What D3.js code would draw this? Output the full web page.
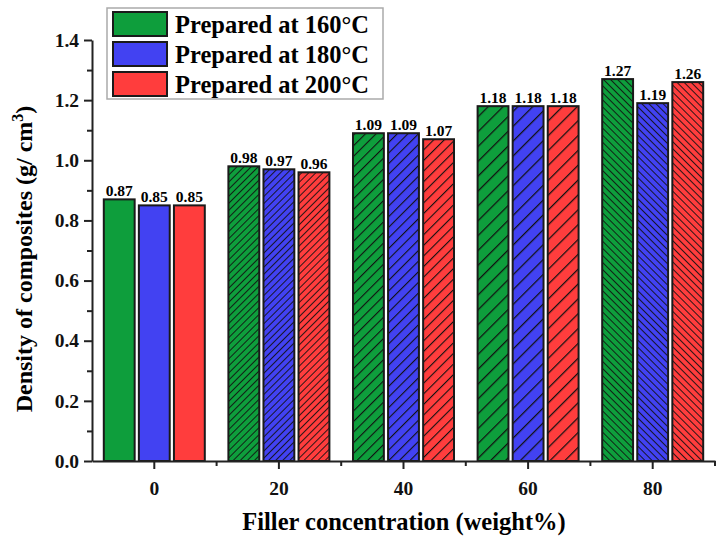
<!DOCTYPE html>
<html><head><meta charset="utf-8">
<script src="https://cdn.jsdelivr.net/npm/d3@7"></script>
<style>body{margin:0;background:#fff}svg{display:block}</style>
</head><body><div id="chart"></div>
<script>
const categories = ["0", "20", "40", "60", "80"];
const seriesNames = ["Prepared at 160°C", "Prepared at 180°C", "Prepared at 200°C"];
const values160 = [0.87, 0.98, 1.09, 1.18, 1.27];
const values180 = [0.85, 0.97, 1.09, 1.18, 1.19];
const values200 = [0.85, 0.96, 1.07, 1.18, 1.26];
const yTicks = [0.0, 0.2, 0.4, 0.6, 0.8, 1.0, 1.2, 1.4];
const colors = ["#0e9e3c", "#4242f2", "#ff3d3d"];
const hatch = [null, {ang: 45, sp: 5, w: 1.8}, {ang: 45, sp: 7.5, w: 2.2}, {ang: 45, sp: 10.5, w: 2.5}, {ang: -45, sp: 5, w: 1.8}];

const W = 725, H = 538;
const svg = d3.select("#chart").append("svg").attr("width", W).attr("height", H);
const font = "'Liberation Serif','Times New Roman',serif";

const x = d3.scaleBand().domain(categories).range([92, 715]).padding(0);
const y = d3.scaleLinear().domain([0, 1.4]).range([461, 40]);
const sub = d3.scaleBand().domain([0,1,2]).range([0, 101]).paddingInner(0.12);
const series = [values160, values180, values200];

// patterns
const defs = svg.append("defs");
categories.forEach((c, ci) => {
  if (!hatch[ci]) return;
  colors.forEach((col, si) => {
    const h = hatch[ci];
    const p = defs.append("pattern").attr("id", `h${ci}_${si}`)
      .attr("patternUnits", "userSpaceOnUse").attr("width", h.sp).attr("height", h.sp)
      .attr("patternTransform", `rotate(${h.ang})`);
    p.append("rect").attr("width", h.sp).attr("height", h.sp).attr("fill", col);
    p.append("line").attr("x1", 0).attr("y1", 0).attr("x2", 0).attr("y2", h.sp)
      .attr("stroke", "#111").attr("stroke-width", h.w);
  });
});

// bars
const barData = [];
categories.forEach((c, ci) => series.forEach((s, si) => barData.push({c, ci, si, v: s[ci]})));
const gOff = (x.bandwidth() - 101) / 2;
svg.append("g").selectAll("rect").data(barData).join("rect")
  .attr("x", d => x(d.c) + gOff + sub(d.si))
  .attr("y", d => y(d.v))
  .attr("width", sub.bandwidth())
  .attr("height", d => y(0) - y(d.v))
  .attr("fill", d => hatch[d.ci] ? `url(#h${d.ci}_${d.si})` : colors[d.si])
  .attr("stroke", "#1a1a1a").attr("stroke-width", 2);

svg.append("g").selectAll("text").data(barData).join("text")
  .attr("x", d => x(d.c) + gOff + sub(d.si) + sub.bandwidth() / 2)
  .attr("y", d => y(d.v) - 3)
  .attr("text-anchor", "middle")
  .attr("font-family", font).attr("font-weight", "bold").attr("font-size", 15.5)
  .text(d => d.v.toFixed(2));

// y axis
const yAxis = svg.append("g").attr("transform", "translate(92,0)")
  .call(d3.axisLeft(y).tickValues(yTicks).tickFormat(d3.format(".1f")).tickSize(8).tickSizeOuter(0).tickPadding(5));
const yMinor = svg.append("g").attr("transform", "translate(92,0)")
  .call(d3.axisLeft(y).tickValues(d3.range(0.1, 1.4, 0.2)).tickFormat("").tickSize(5).tickSizeOuter(0));
yMinor.select(".domain").remove();

// x axis
const xAxis = svg.append("g").attr("transform", "translate(0,461)")
  .call(d3.axisBottom(x).tickSize(8).tickSizeOuter(0).tickPadding(12));
const bounds = categories.map((c) => x(c) + x.bandwidth());
svg.append("g").selectAll("line").data(bounds).join("line")
  .attr("x1", d => d).attr("x2", d => d).attr("y1", 461).attr("y2", 466)
  .attr("stroke", "#222").attr("stroke-width", 2);

[yAxis, yMinor, xAxis].forEach(g => {
  g.selectAll(".domain").attr("stroke", "#222").attr("stroke-width", 2);
  g.selectAll(".tick line").attr("stroke", "#222").attr("stroke-width", 2);
  g.selectAll("text").attr("font-family", font).attr("font-weight", "bold").attr("font-size", 19.5).attr("fill", "#111");
});

// axis titles
svg.append("text").attr("x", 404).attr("y", 530).attr("text-anchor", "middle")
  .attr("font-family", font).attr("font-weight", "bold").attr("font-size", 24.5).text("Filler concentration (weight%)");
const yl = svg.append("text").attr("transform", "translate(32,259) rotate(-90)").attr("text-anchor", "middle")
  .attr("font-family", font).attr("font-weight", "bold").attr("font-size", 24);
yl.append("tspan").text("Density of composites (g/ cm");
yl.append("tspan").attr("dy", -9).attr("font-size", 16).text("3");
yl.append("tspan").attr("dy", 9).text(")");

// legend
const lg = svg.append("g");
lg.append("rect").attr("x", 107).attr("y", 8).attr("width", 276).attr("height", 91)
  .attr("fill", "#fff").attr("stroke", "#aaa").attr("stroke-width", 1.5);
seriesNames.forEach((n, i) => {
  lg.append("rect").attr("x", 113).attr("y", 12 + i * 30).attr("width", 54).attr("height", 24)
    .attr("fill", colors[i]).attr("stroke", "#1a1a1a").attr("stroke-width", 2);
  lg.append("text").attr("x", 175).attr("y", 33 + i * 30)
    .attr("font-family", font).attr("font-weight", "bold").attr("font-size", 24.5).text(n);
});
</script></body></html>
